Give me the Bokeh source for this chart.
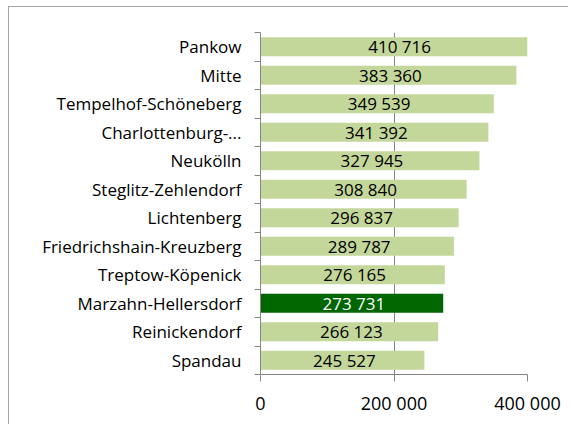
from bokeh.plotting import figure
from bokeh.models import ColumnDataSource, Range1d, FixedTicker
from bokeh.embed import file_html
from bokeh.resources import INLINE
from bokeh.core.properties import value

districts = ["Pankow", "Mitte", "Tempelhof-Schöneberg", "Charlottenburg-...", "Neukölln",
             "Steglitz-Zehlendorf", "Lichtenberg", "Friedrichshain-Kreuzberg", "Treptow-Köpenick",
             "Marzahn-Hellersdorf", "Reinickendorf", "Spandau"]
population = [410716, 383360, 349539, 341392, 327945, 308840, 296837, 289787, 276165,
              273731, 266123, 245527]
highlight = "Marzahn-Hellersdorf"
x_ticks = [0, 200000, 400000]
x_tick_labels = ["0", "200 000", "400 000"]

LIGHT = "#C4D79B"
DARK = "#006600"
GRAY = "#868686"
FONT = "Open Sans"

pos = list(range(len(districts)))
colors = [DARK if d == highlight else LIGHT for d in districts]
label_colors = ["white" if d == highlight else "black" for d in districts]
labels = [f"{v:,}".replace(",", " ") for v in population]
mid = [v / 2 for v in population]

src = ColumnDataSource(dict(y=pos, v=population, c=colors, lab=labels, lc=label_colors, mid=mid))

W, H = 560, 418
p = figure(width=W, height=H, output_backend="svg", toolbar_location=None,
           x_range=Range1d(0, 400000), y_range=Range1d(len(districts) - 0.5, -0.5),
           min_border_left=251, min_border_right=42, min_border_top=25, min_border_bottom=51)
p.styles = {"border-left": "1px solid #a6a6a6", "border-top": "1px solid #a6a6a6",
            "margin-left": "8px", "margin-top": "6px"}
p.outline_line_color = None
p.background_fill_color = "white"

p.hbar(y="y", left=0, right="v", height=0.67, fill_color="c", line_color=None, source=src)
p.text(x="mid", y="y", text="lab", text_color="lc", text_align="center", text_baseline="middle",
       text_font=value(FONT), text_font_size="17px", x_offset=2, source=src)

# x axis
p.xaxis.ticker = FixedTicker(ticks=x_ticks)
p.xaxis.major_label_overrides = {t: l for t, l in zip(x_ticks, x_tick_labels)}
p.xaxis.axis_line_color = GRAY
p.xaxis.major_tick_line_color = GRAY
p.xaxis.major_tick_out = 7
p.xaxis.major_tick_in = 0
p.xaxis.minor_tick_line_color = None
p.xaxis.major_label_text_font = FONT
p.xaxis.major_label_text_font_size = "18px"
p.xaxis.major_label_text_color = "black"
p.xaxis.major_label_standoff = 9

# y axis
p.yaxis.ticker = FixedTicker(ticks=pos, minor_ticks=[i - 0.5 for i in range(len(districts) + 1)])
p.yaxis.major_label_overrides = {i: d for i, d in zip(pos, districts)}
p.yaxis.axis_line_color = GRAY
p.yaxis.major_tick_line_color = None
p.yaxis.major_tick_out = 0
p.yaxis.major_tick_in = 0
p.yaxis.minor_tick_line_color = GRAY
p.yaxis.minor_tick_out = 6
p.yaxis.minor_tick_in = 0
p.yaxis.major_label_text_font = FONT
p.yaxis.major_label_text_font_size = "17px"
p.yaxis.major_label_text_color = "black"
p.yaxis.major_label_standoff = 13

p.xgrid.grid_line_color = GRAY
p.ygrid.grid_line_color = None

open("out.html", "w").write(file_html(p, INLINE))
